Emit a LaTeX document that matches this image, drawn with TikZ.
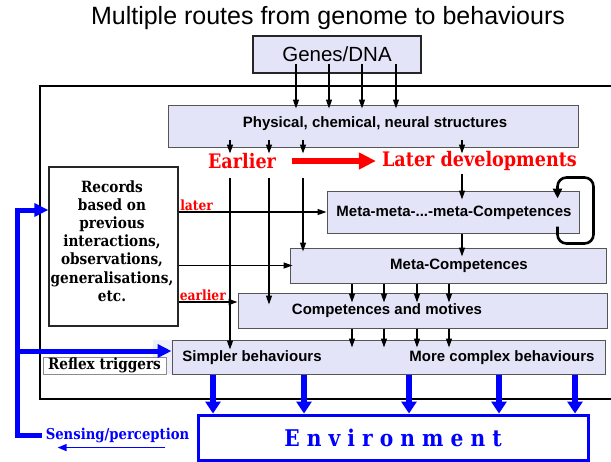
\documentclass[tikz,border=0pt]{standalone}
\usepackage{fontspec}
\setsansfont{Liberation Sans}
\newfontfamily\schfont[FakeStretch=0.88]{DejaVu Serif}
\usepackage{tikz}
\usetikzlibrary{arrows.meta,calc}
\definecolor{boxfill}{RGB}{228,228,248}
\definecolor{boxline}{RGB}{85,85,85}

\begin{document}
\begin{tikzpicture}[x=1pt,y=-1pt,
    genebox/.style={rectangle, draw=black!85, fill=boxfill, line width=1.3pt, inner sep=0pt},
    levbox/.style={rectangle, draw=boxline, fill=boxfill, line width=1pt, inner sep=0pt},
    recbox/.style={rectangle, draw=black!85, fill=white, line width=1.3pt, inner sep=0pt},
    lvltext/.style={inner sep=0pt, font=\sffamily\bfseries\fontsize{15}{17}\selectfont},
    serifbf/.style={inner sep=0pt, align=center, font=\schfont\bfseries\fontsize{15.5}{18.2}\selectfont},
    redtext/.style={inner sep=0pt, text=red, font=\schfont\bfseries\fontsize{20}{22}\selectfont},
    redsmall/.style={inner sep=1pt, text=red, font=\schfont\bfseries\fontsize{14}{16}\selectfont},
    arr/.style={-{Triangle[length=9pt,width=6pt]}, line width=1.3pt},
    redarr/.style={-{Triangle[length=17pt,width=16pt]}, line width=6pt, red},
    bluearr/.style={-{Triangle[length=14pt,width=13pt]}, line width=5pt, blue, line join=miter},
    envarr/.style={-{Triangle[length=12pt,width=15pt]}, line width=6pt, blue},
    selfloop/.style={-{Triangle[length=10pt,width=9pt]}, line width=2.6pt, rounded corners=9pt},
  ]
    \useasboundingbox (0,0) rectangle (611,461);

    % Title and genes
    \node[inner sep=0pt, font=\sffamily\fontsize{25}{28}\selectfont] (title) at (328,18) {Multiple routes from genome to behaviours};
    \node[genebox, minimum width=168pt, minimum height=37pt, font=\sffamily\fontsize{20.5}{22}\selectfont] (genes) at (337,54.5) {Genes/DNA};

    % Outer frame
    \draw[line width=2.5pt] (616,86) -| (40,399) -- (616,399);

    % Levels
    \node[levbox, minimum width=410pt, minimum height=42pt] (phys) at (373,126) {};
    \node[lvltext] at (375,124) {Physical, chemical, neural structures};
    \node[levbox, minimum width=252pt, minimum height=42pt] (metameta) at (453,212) {};
    \node[lvltext] at (454,213) {Meta-meta-...-meta-Competences};
    \node[levbox, minimum width=316pt, minimum height=35pt] (metacomp) at (448,265.5) {};
    \node[lvltext] at (459,266) {Meta-Competences};
    \node[levbox, minimum width=369pt, minimum height=35pt] (comp) at (422.5,310.5) {};
    \node[lvltext] at (387,311) {Competences and motives};
    \fill[boxfill!60] (153,340) rectangle (172,374);
    \node[levbox, minimum width=433pt, minimum height=34pt] (behav) at (388.5,357) {};
    \node[lvltext] at (252,358) {Simpler behaviours};
    \node[lvltext] at (502,358) {More complex behaviours};

    % Records and reflexes
    \node[recbox, minimum width=129pt, minimum height=159pt] (records) at (113.5,246.5) {};
    \node[serifbf] (rectext) at (112,241) {Records\\based on\\previous\\interactions,\\observations,\\generalisations,\\etc.};
    \node[rectangle, draw=black!45, fill=white, line width=0.8pt, serifbf, minimum width=123pt, minimum height=17pt] (reflex) at (104.5,365.5) {Reflex triggers};

    % Earlier -> later
    \node[redtext] (earlier) at (242,161) {Earlier};
    \node[redtext] (laterdev) at (479.5,161) {Later developments};
    \draw[redarr] ([xshift=16pt]earlier.east) -- ([xshift=-6pt]laterdev.west);

    % Genes arrows
    \foreach \x in {296,329,362,396}
      \draw[arr, shorten >=-4pt] (\x,0 |- genes.south) ++(0,-10) -- (\x,0 |- phys.north);

    % Routes down from physical structures
    \foreach \x in {230,269,303,462}
      \draw[arr] (\x,0 |- phys.south) ++(0,-8) -- ++(0,14);
    \draw[arr, shorten >=-10pt] (230,0 |- phys.south) ++(0,30) -- (230,0 |- behav.north);
    \draw[arr, shorten >=-12pt] (269,0 |- phys.south) ++(0,30) -- (269,0 |- comp.north);
    \draw[arr, shorten >=-4pt] (303,0 |- phys.south) ++(0,30) -- (303,0 |- metacomp.north);
    \draw[arr, shorten >=-9pt] (462,0 |- phys.south) ++(0,26) -- (462,0 |- metameta.north);
    \draw[arr, shorten >=-9pt] (462,0 |- metameta.south) -- (462,0 |- metacomp.north);
    \foreach \x in {352,384,417,449} {
      \draw[arr, shorten >=-10pt] (\x,0 |- metacomp.south) -- (\x,0 |- comp.north);
      \draw[arr, shorten >=-8pt] (\x,0 |- comp.south) -- (\x,0 |- behav.north);
    }

    % Self loop
    \draw[selfloop] ($(metameta.south east)+(-22,-7)$) -- ++(0,17) -- ++(36,0) -- ++(0,-66) -- ++(-36,0) -- ++(0,21);

    % From records
    \coordinate (earlyin) at ($(comp.west)+(0,-8.5)$);
    \draw[arr] (records.east |- metameta.west) -- node[pos=0, above right, redsmall] {later} (metameta.west);
    \draw[arr, shorten >=-3pt] (records.east |- metacomp.west) -- (metacomp.west);
    \draw[arr] (records.east |- earlyin) -- node[pos=0, above right, redsmall, inner sep=0.5pt] {earlier} (earlyin);

    % Environment
    \node[rectangle, draw=blue, line width=3pt, fill=white, minimum width=390pt, minimum height=45pt, inner sep=0pt, text=blue, font=\schfont\bfseries\fontsize{23}{26}\selectfont] (env) at (393,437.5) {E n v i r o n m e n t};
    \foreach \x in {213,304,409,499,575}
      \draw[envarr] (\x,0 |- behav.south) -- (\x,0 |- env.north);

    % Sensing
    \node[inner sep=0pt, text=blue, font=\schfont\bfseries\fontsize{15}{17}\selectfont] (sensing) at (117.5,435) {Sensing/perception};
    \coordinate (inrec) at ($(records.west)+(0,-36.5)$);
    \coordinate (trunk) at ($(inrec)+(-31,0)$);
    \coordinate (inbeh) at ($(behav.west)+(0,-6)$);
    \draw[bluearr] ([xshift=-4pt]sensing.west) -| (trunk) -- (inrec);
    \draw[bluearr] (trunk |- inbeh) -- (inbeh);
    \draw[-{Triangle[length=9pt,width=7pt]}, line width=1.5pt, blue] ($(sensing.south east)+(-24,5)$) -- ($(sensing.south west)+(12,5)$);
  \end{tikzpicture}
\end{document}
